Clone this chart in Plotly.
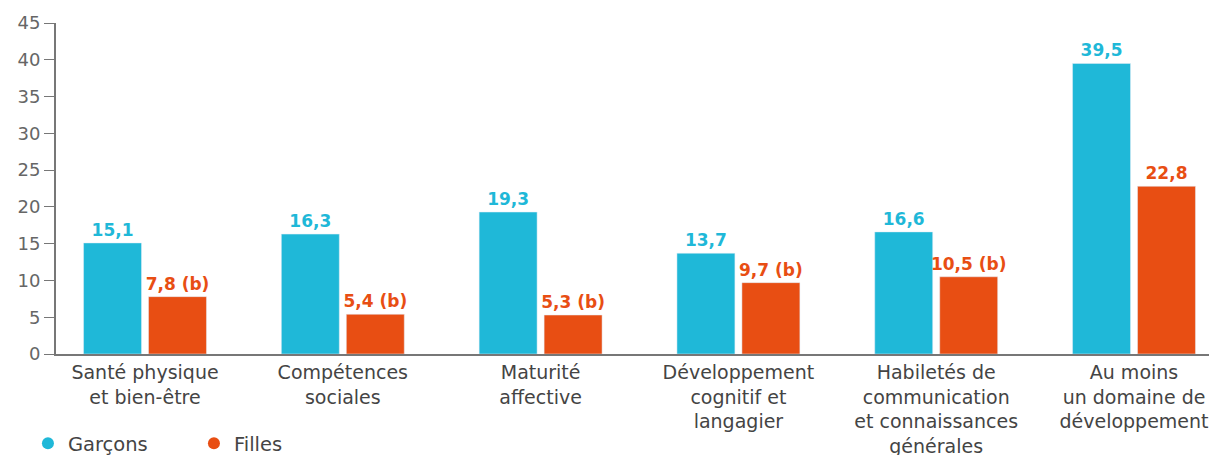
import plotly.graph_objects as go

categories = [
    "Santé physique<br>et bien-être",
    "Compétences<br>sociales",
    "Maturité<br>affective",
    "Développement<br>cognitif et<br>langagier",
    "Habiletés de<br>communication<br>et connaissances<br>générales",
    "Au moins<br>un domaine de<br>développement",
]
garcons = [15.1, 16.3, 19.3, 13.7, 16.6, 39.5]
filles = [7.8, 5.4, 5.3, 9.7, 10.5, 22.8]
garcons_labels = ["15,1", "16,3", "19,3", "13,7", "16,6", "39,5"]
filles_labels = ["7,8 (b)", "5,4 (b)", "5,3 (b)", "9,7 (b)", "10,5 (b)", "22,8"]
y_ticks = [0, 5, 10, 15, 20, 25, 30, 35, 40, 45]

BLUE = "#1FB8D8"
ORANGE = "#E84E13"
FONT = "DejaVu Sans"

fig = go.Figure()
fig.add_trace(go.Bar(
    x=categories, y=garcons, text=garcons_labels, name="Garçons",
    marker_color=BLUE, textposition="outside", constraintext="none",
    textfont=dict(color=BLUE, size=17, family=FONT, weight="bold"),
    cliponaxis=False, showlegend=False,
))
fig.add_trace(go.Bar(
    x=categories, y=filles, text=filles_labels, name="Filles",
    marker_color=ORANGE, textposition="outside", constraintext="none",
    textfont=dict(color=ORANGE, size=17, family=FONT, weight="bold"),
    cliponaxis=False, showlegend=False,
))
# legend entries with round markers
for name, col in [("Garçons", BLUE), ("Filles", ORANGE)]:
    fig.add_trace(go.Scatter(
        x=[None], y=[None], mode="markers", name=name,
        marker=dict(color=col, size=15, symbol="circle"),
    ))

fig.update_layout(
    width=1217, height=455,
    margin=dict(l=48, r=0, t=15, b=102),
    paper_bgcolor="white", plot_bgcolor="white",
    font=dict(family=FONT, size=19, color="#444"),
    barmode="group", bargap=0.343, bargroupgap=0.108,
    legend=dict(
        orientation="h", x=-0.024, xanchor="left", y=-0.272, yanchor="middle",
        entrywidth=121, entrywidthmode="pixels",
        font=dict(size=19.5, color="#444"), itemsizing="constant",
    ),
)
fig.update_xaxes(
    range=[-0.45, 5.46], showline=True, linecolor="#777", linewidth=2,
    ticks="", tickfont=dict(size=19, color="#444"), showgrid=False,
    ticklabelstandoff=0,
)
fig.update_yaxes(
    range=[0, 45], tickvals=y_ticks, showline=True, linecolor="#777", linewidth=2,
    ticks="outside", ticklen=10, tickcolor="#777", tickwidth=1,
    tickfont=dict(size=18, color="#666"), showgrid=False, zeroline=False,
)

fig.write_html("out.html")
